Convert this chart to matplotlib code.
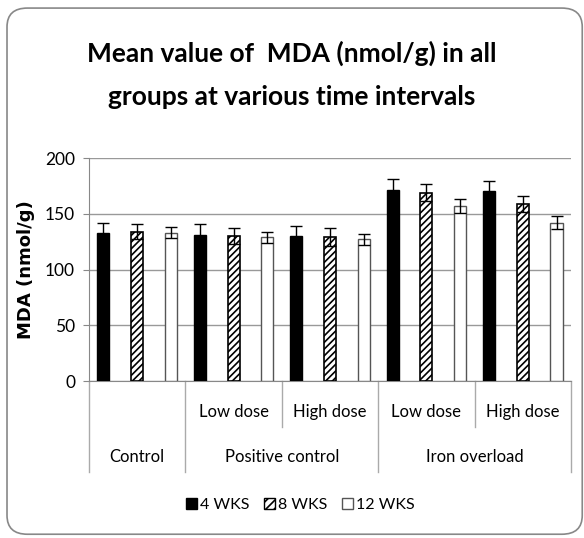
import numpy as np
import matplotlib
matplotlib.use("Agg")
import matplotlib.pyplot as plt
from matplotlib.patches import FancyBboxPatch, Patch

# ----- data ----- #
groups = ["Control", "Positive control", "Iron overload"]
subgroups = ["", "Low dose", "High dose", "Low dose", "High dose"]
series = ["4 WKS", "8 WKS", "12 WKS"]
wk4 = [133, 131, 130, 171, 170]
wk8 = [134, 130, 129, 169, 159]
wk12 = [133, 129, 127, 157, 142]
err4 = [9, 10, 9, 10, 9]
err8 = [7, 7, 8, 8, 7]
err12 = [5, 5, 5, 6, 6]
yticks = [0, 50, 100, 150, 200]

plt.rcParams['font.family'] = ['Lato', 'DejaVu Sans']
plt.rcParams['hatch.linewidth'] = 1.2

fig = plt.figure(figsize=(5.84, 5.38), dpi=100)
ax = fig.add_axes([0.1524, 0.2918, 0.8253, 0.4145])

# rounded frame round the whole chart
frame = FancyBboxPatch((0.012, 0.007), 0.985, 0.978, boxstyle="round,pad=0,rounding_size=0.035",
                       transform=fig.transFigure, fill=False, edgecolor='#888888', lw=1.2)
fig.patches.append(frame)

x = np.arange(len(subgroups))
off = 0.35
w = 0.125
ekw = dict(ecolor='black', elinewidth=1, capsize=4, capthick=1)
ax.bar(x - off, wk4, w, color='black', edgecolor='black', yerr=err4, error_kw=ekw, zorder=3)
ax.bar(x, wk8, w, color='white', edgecolor='black', hatch='/////', lw=1.2, yerr=err8, error_kw=ekw, zorder=3)
ax.bar(x + off, wk12, w, color='white', edgecolor='#555555', lw=1, yerr=err12, error_kw=ekw, zorder=3)

ax.set_xlim(-0.5, len(subgroups) - 0.5)
ax.set_ylim(0, 200)
ax.set_yticks(yticks)
ax.tick_params(axis='y', labelsize=12.5, length=4, color='#888888', pad=6)
ax.set_xticks([])
ax.grid(axis='y', color='#999999', lw=1, zorder=0)
for s in ['top', 'right']:
	ax.spines[s].set_visible(False)
ax.spines['left'].set_color('#888888')
ax.spines['bottom'].set_color('#888888')
ax.set_ylabel("MDA (nmol/g)", fontsize=13, fontweight='bold', family='DejaVu Sans')
ax.yaxis.set_label_coords(-0.112, 0.5)

# ----- two level category axis ----- #
tr = ax.get_xaxis_transform()
for i, lab in enumerate(subgroups):
	if lab:
		ax.text(i, -0.139, lab, transform=tr, ha='center', va='center', fontsize=12)
for xs in [-0.5, 0.5, 2.5, 4.5]:
	ax.plot([xs, xs], [0, -0.408], transform=tr, color='#aaaaaa', lw=1, clip_on=False)
for xs in [1.5, 3.5]:
	ax.plot([xs, xs], [0, -0.206], transform=tr, color='#aaaaaa', lw=1, clip_on=False)
gpos = [0, 1.5, 3.5]
for g, lab in zip(gpos, groups):
	ax.text(g, -0.341, lab, transform=tr, ha='center', va='center', fontsize=12)

fig.text(0.5, 0.9015, "Mean value of  MDA (nmol/g) in all", ha='center', va='center',
         fontsize=19, fontweight='bold')
fig.text(0.5, 0.8197, "groups at various time intervals", ha='center', va='center',
         fontsize=19, fontweight='bold')

handles = [Patch(facecolor='black', edgecolor='black'),
           Patch(facecolor='white', edgecolor='black', hatch='////'),
           Patch(facecolor='white', edgecolor='#555555')]
fig.legend(handles, series, loc='center', bbox_to_anchor=(0.514, 0.0613), ncol=3, frameon=False,
           fontsize=11.5, handlelength=0.7, handleheight=0.7, handletextpad=0.2, columnspacing=0.9)

fig.savefig("out.png", dpi=100)
